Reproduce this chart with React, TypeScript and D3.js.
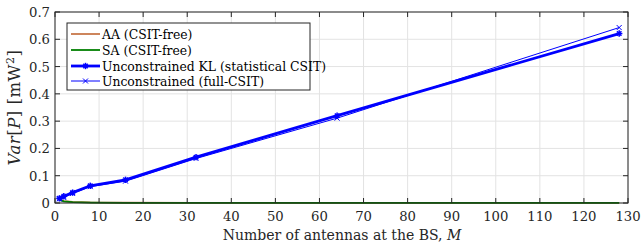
import React from "react";
import * as d3 from "d3";

const M = [1, 2, 4, 8, 16, 32, 64, 128];
const aaVals = [0.013, 0.007, 0.004, 0.002, 0.001, 0.0005, 0.0003, 0.0002];
const saVals = [0.011, 0.006, 0.003, 0.0015, 0.0008, 0.0004, 0.0002, 0.0001];
const klVals = [0.017, 0.025, 0.038, 0.063, 0.085, 0.168, 0.32, 0.621];
const fullVals = [0.015, 0.02, 0.035, 0.06, 0.08, 0.163, 0.311, 0.643];
const xTicks = [0, 10, 20, 30, 40, 50, 60, 70, 80, 90, 100, 110, 120, 130];
const yTicks = [0, 0.1, 0.2, 0.3, 0.4, 0.5, 0.6, 0.7];
const legendLabels = [
  "AA (CSIT-free)",
  "SA (CSIT-free)",
  "Unconstrained KL (statistical CSIT)",
  "Unconstrained (full-CSIT)",
];

const W = 642, H = 244;
const L = 55, R = 628, T = 12, B = 203;
const FONT = "DejaVu Serif";

export default function App() {
  const x = d3.scaleLinear().domain([0, 130]).range([L, R]);
  const y = d3.scaleLinear().domain([0, 0.7]).range([B, T]);
  const line = d3.line<[number, number]>().x(d => x(d[0])).y(d => y(d[1]));
  const pts = (v: number[]) => M.map((m, i) => [m, v[i]] as [number, number]);
  const blue = "#0000ff";
  const aaCol = "#c8784a";
  const saCol = "#007f00";

  const star = (cx: number, cy: number, s: number, k: string) => (
    <g key={k} stroke={blue} strokeWidth={1.5}>
      <line x1={cx - s} y1={cy} x2={cx + s} y2={cy} />
      <line x1={cx} y1={cy - s} x2={cx} y2={cy + s} />
      <line x1={cx - s * 0.7} y1={cy - s * 0.7} x2={cx + s * 0.7} y2={cy + s * 0.7} />
      <line x1={cx - s * 0.7} y1={cy + s * 0.7} x2={cx + s * 0.7} y2={cy - s * 0.7} />
    </g>
  );
  const cross = (cx: number, cy: number, s: number, k: string) => (
    <g key={k} stroke={blue} strokeWidth={1}>
      <line x1={cx - s} y1={cy - s} x2={cx + s} y2={cy + s} />
      <line x1={cx - s} y1={cy + s} x2={cx + s} y2={cy - s} />
    </g>
  );

  const legX = 67, legY = 23, legW = 243, legH = 67;
  const rowY = [34, 50, 66, 81];
  const fs = { fontFamily: FONT };

  return (
    <svg width={W} height={H} style={{ position: "absolute", left: 0, top: 0, fontFamily: FONT }}>
      <rect width={W} height={H} fill="#fff" />
      {xTicks.map(t => (
        <line key={"gx" + t} x1={x(t)} x2={x(t)} y1={T} y2={B} stroke="#e3e3e3" strokeWidth={1} />
      ))}
      {yTicks.map(t => (
        <line key={"gy" + t} x1={L} x2={R} y1={y(t)} y2={y(t)} stroke="#e3e3e3" strokeWidth={1} />
      ))}
      <path d={line(pts(aaVals)) || ""} fill="none" stroke={aaCol} strokeWidth={1.8} />
      <path d={line(pts(saVals)) || ""} fill="none" stroke={saCol} strokeWidth={1.8} />
      <path d={line(pts(fullVals)) || ""} fill="none" stroke={blue} strokeWidth={1} />
      {M.map((m, i) => cross(x(m), y(fullVals[i]), 2.5, "c" + i))}
      <path d={line(pts(klVals)) || ""} fill="none" stroke={blue} strokeWidth={2.8} />
      {M.map((m, i) => star(x(m), y(klVals[i]), 3.2, "s" + i))}
      <rect x={L} y={T} width={R - L} height={B - T} fill="none" stroke="#262626" strokeWidth={1} />
      {xTicks.map(t => (
        <g key={"tx" + t}>
          <line x1={x(t)} x2={x(t)} y1={B} y2={B - 5} stroke="#262626" />
          <line x1={x(t)} x2={x(t)} y1={T} y2={T + 5} stroke="#262626" />
          <text x={x(t)} y={B + 18} textAnchor="middle" fontSize={13.2} fill="#262626" style={fs}>{t}</text>
        </g>
      ))}
      {yTicks.map(t => (
        <g key={"ty" + t}>
          <line x1={L} x2={L + 5} y1={y(t)} y2={y(t)} stroke="#262626" />
          <line x1={R} x2={R - 5} y1={y(t)} y2={y(t)} stroke="#262626" />
          <text x={L - 5} y={y(t) + 5} textAnchor="end" fontSize={13.2} fill="#262626" style={fs}>{t === 0 ? "0" : t.toFixed(1)}</text>
        </g>
      ))}
      <text x={342} y={240} textAnchor="middle" fontSize={14} fill="#262626" style={fs}>
        Number of antennas at the BS, <tspan fontStyle="italic">M</tspan>
      </text>
      <text transform={`translate(20,${(T + B) / 2}) rotate(-90)`} textAnchor="middle" fontSize={16.5} letterSpacing={0.5} fill="#262626" style={fs}>
        <tspan fontStyle="italic">Var</tspan>[<tspan fontStyle="italic">P</tspan>] [mW<tspan dy={-6} fontSize={11}>2</tspan><tspan dy={6}>]</tspan>
      </text>
      <rect x={legX} y={legY} width={legW} height={legH} fill="#fff" stroke="#262626" strokeWidth={1} />
      <line x1={71} x2={100} y1={rowY[0]} y2={rowY[0]} stroke={aaCol} strokeWidth={1.8} />
      <line x1={71} x2={100} y1={rowY[1]} y2={rowY[1]} stroke={saCol} strokeWidth={1.8} />
      <line x1={71} x2={100} y1={rowY[2]} y2={rowY[2]} stroke={blue} strokeWidth={2.8} />
      {star(85.5, rowY[2], 3.2, "ls")}
      <line x1={71} x2={100} y1={rowY[3]} y2={rowY[3]} stroke={blue} strokeWidth={1} />
      {cross(85.5, rowY[3], 2.5, "lc")}
      {legendLabels.map((s, i) => (
        <text key={"lg" + i} x={102} y={rowY[i] + 4.5} fontSize={12.4} fill="#000" style={fs}>{s}</text>
      ))}
    </svg>
  );
}
